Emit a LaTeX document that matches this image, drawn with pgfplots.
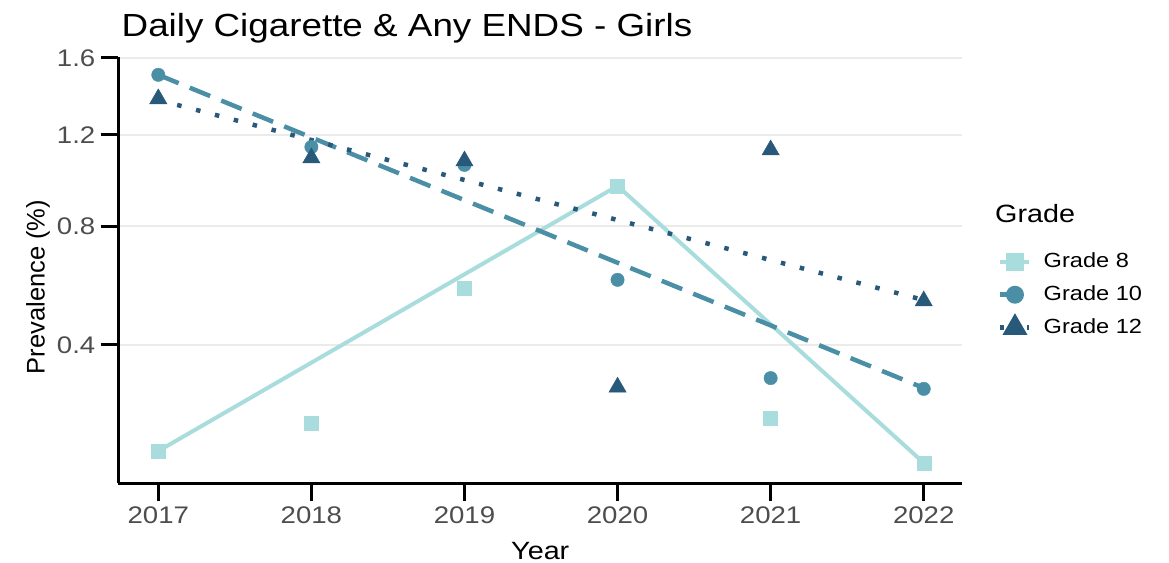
\documentclass[border=0pt]{standalone}
\usepackage{fontspec}
\setmainfont{Liberation Sans}[FakeStretch=1.15]
\newfontfamily\plainsans{Liberation Sans}
\usepackage{pgfplots}
\pgfplotsset{compat=1.18}
\definecolor{gEight}{HTML}{A9DCDC}
\definecolor{gTen}{HTML}{4A8FA6}
\definecolor{gTwelve}{HTML}{28587A}
\definecolor{tickgray}{HTML}{4D4D4D}
\definecolor{gridgray}{HTML}{EBEBEB}
\begin{document}
\begin{tikzpicture}
\useasboundingbox (-118.5pt,-79pt) rectangle (1050.5pt,483pt);
\begin{axis}[
  at={(0pt,0pt)}, anchor=south west,
  scale only axis, width=843.5pt, height=426pt,
  xmin=2016.74, xmax=2022.25, ymin=0.1078, ymax=1.605,
  y coord trafo/.code={\pgfmathparse{sqrt(#1)}},
  y coord inv trafo/.code={\pgfmathparse{(#1)^2}},
  xtick={2017,2018,2019,2020,2021,2022},
  xticklabels={2017,2018,2019,2020,2021,2022},
  ytick={0.4,0.8,1.2,1.6},
  yticklabels={0.4,0.8,1.2,1.6},
  axis lines*=left,
  axis line style={line width=3pt, black},
  every tick/.style={line width=3pt, black},
  tick align=outside, major tick length=18pt,
  ymajorgrids, major grid style={line width=2pt, gridgray},
  /pgf/number format/assume math mode=true,
  tick label style={font=\fontsize{24}{28}\selectfont, text=tickgray},
  xticklabel style={inner sep=0pt, yshift=-6pt, anchor=north},
  yticklabel style={inner sep=0pt, xshift=-5pt, anchor=east},
  xlabel={Year},
  xlabel style={at={(axis description cs:0.5,0)}, anchor=base, yshift=-76pt, font=\fontsize{25}{30}\selectfont},
  ylabel={\plainsans Prevalence (\%)},
  every axis y label/.style={at={(axis description cs:-0.0954,0.46)}, rotate=90, anchor=center, font=\fontsize{25.5}{30}\selectfont},
  legend style={at={(axis description cs:1.0427,0.5445)}, anchor=north west,
    draw=none, fill=none, inner sep=0pt, row sep=12pt, column sep=12pt,
    font=\fontsize{20.5}{24}\selectfont,
    nodes={inner sep=0pt, text height=16pt, text depth=5pt, anchor=west}},
  legend cell align=left,
  legend image code/.code={\draw[mark repeat=2,mark phase=2,#1] plot coordinates {(0pt,0pt) (14.5pt,0pt) (29pt,0pt)};},
  clip=false,
]
% legend images
\addlegendimage{gEight, line width=4pt, mark=square*, mark size=7pt, mark options={solid}}
\addlegendentry{Grade 8}
\addlegendimage{gTen, line width=4.5pt, dash pattern=on 22pt off 12pt, mark=*, mark size=6.7pt, mark options={solid}}
\addlegendentry{Grade 10}
\addlegendimage{gTwelve, line width=4.5pt, dash pattern=on 4pt off 5pt, mark=triangle*, mark size=10pt, mark options={solid}}
\addlegendentry{Grade 12}
% trend lines
\addplot[gEight, line width=4pt, forget plot] coordinates {(2017,0.159) (2020,0.966) (2022,0.139)};
\addplot[gTen, line width=4.5pt, dash pattern=on 22pt off 12pt, forget plot] coordinates {(2017,1.507) (2022,0.289)};
\addplot[gTwelve, line width=4.5pt, dash pattern=on 4.5pt off 15pt, forget plot] coordinates {(2017,1.374) (2022,0.535)};
% points
\addplot[only marks, mark=square*, mark size=7pt, color=gEight, forget plot] coordinates {
 (2017,0.159) (2018,0.212) (2019,0.575) (2020,0.966) (2021,0.222) (2022,0.139)};
\addplot[only marks, mark=*, mark size=6.7pt, color=gTen, forget plot] coordinates {
 (2017,1.507) (2018,1.142) (2019,1.059) (2020,0.602) (2021,0.313) (2022,0.287)};
\addplot[only marks, mark=triangle*, mark size=10pt, color=gTwelve, forget plot] coordinates {
 (2017,1.380) (2018,1.091) (2019,1.077) (2020,0.291) (2021,1.128) (2022,0.532)};
\end{axis}
\node[anchor=base west, font=\fontsize{32}{38}\selectfont, inner sep=0pt] at (3pt,446pt) {Daily Cigarette \& Any ENDS - Girls};
\node[anchor=base west, font=\fontsize{25}{30}\selectfont, inner sep=0pt] at (876.5pt,260pt) {Grade};
\end{tikzpicture}
\end{document}
